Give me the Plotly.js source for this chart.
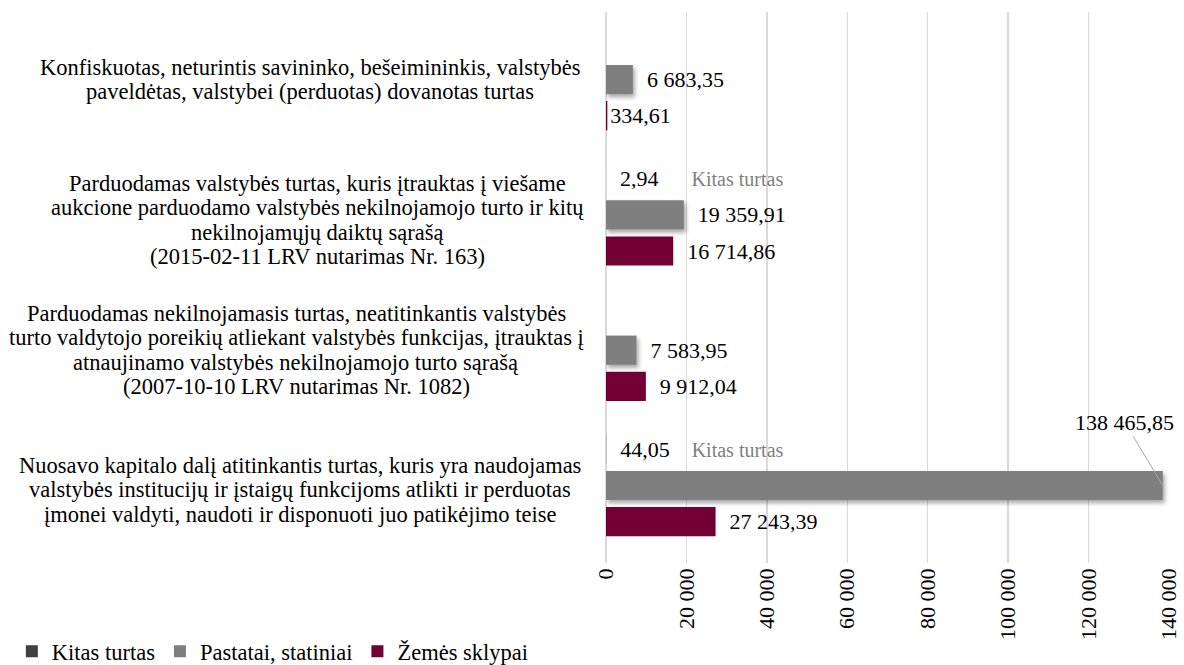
<!DOCTYPE html>
<html><head><meta charset="utf-8">
<script src="https://cdn.plot.ly/plotly-3.0.1.min.js"></script>
<style>html,body{margin:0;padding:0;background:#fff}#chart{width:1184px;height:665px}</style>
</head><body><div id="chart"></div>
<script>
const categoryLines = [
  ["Konfiskuotas, neturintis savininko, bešeimininkis, valstybės",
   "paveldėtas, valstybei (perduotas) dovanotas turtas"],
  ["Parduodamas valstybės turtas, kuris įtrauktas į viešame",
   "aukcione parduodamo valstybės nekilnojamojo turto ir kitų",
   "nekilnojamųjų daiktų sąrašą",
   "(2015-02-11 LRV nutarimas Nr. 163)"],
  ["Parduodamas nekilnojamasis turtas, neatitinkantis valstybės",
   "turto valdytojo poreikių atliekant valstybės funkcijas, įtrauktas į",
   "atnaujinamo valstybės nekilnojamojo turto sąrašą",
   "(2007-10-10 LRV nutarimas Nr. 1082)"],
  ["Nuosavo kapitalo dalį atitinkantis turtas, kuris yra naudojamas",
   "valstybės institucijų ir įstaigų funkcijoms atlikti ir perduotas",
   "įmonei valdyti, naudoti ir disponuoti juo patikėjimo teise"]
];
const categories = categoryLines.map(l => l.join(' '));
const seriesNames = ["Kitas turtas", "Pastatai, statiniai", "Žemės sklypai"];
const kitasTurtas = [null, 2.94, null, 44.05];
const pastatai = [6683.35, 19359.91, 7583.95, 138465.85];
const zemesSklypai = [334.61, 16714.86, 9912.04, 27243.39];
const xTickValues = [0, 20000, 40000, 60000, 80000, 100000, 120000, 140000];

const colors = ['#404040', '#7f7f7f', '#720034'];
const FONT = 'Liberation Serif, Times New Roman, serif';
const xMax = 140000;
const NB = '\u00a0';

const kitasGap = [0, 6, 0, 4];
const kitasTemplates = kitasTurtas.map((v, i) =>
  v == null ? '' : NB + NB + '%{x:,.2f}' + NB.repeat(kitasGap[i]) +
  '<span style="color:#808080;font-size:20px">' + seriesNames[0] + '</span>');
const bigThreshold = 0.85 * xMax;
const pad = v => (v < 0.01 * xMax ? '' : NB + NB);
const pastTemplates = pastatai.map(v => v > bigThreshold ? '' : pad(v) + '%{x:,.2f}');
const zemTemplates = zemesSklypai.map(v => pad(v) + '%{x:,.2f}');

const common = {type: 'bar', orientation: 'h', y: categories, textposition: 'outside',
  cliponaxis: false, textfont: {family: FONT, size: 22, color: '#000'}, hoverinfo: 'x+name'};

const traces = [
  Object.assign({}, common, {name: seriesNames[0], x: kitasTurtas, marker: {color: colors[0]}, texttemplate: kitasTemplates}),
  Object.assign({}, common, {name: seriesNames[1], x: pastatai, marker: {color: colors[1]}, texttemplate: pastTemplates}),
  Object.assign({}, common, {name: seriesNames[2], x: zemesSklypai, marker: {color: colors[2]}, texttemplate: zemTemplates})
];

const blockCenters = [310, 317, 296, 300];
const blockDy = [0, -5, 0, -4];
const plotLeft = 606;
const lineStep = 24.5;
const annotations = [];
categoryLines.forEach((lines, ci) => {
  const n = lines.length;
  lines.forEach((line, k) => {
    annotations.push({
      xref: 'paper', yref: 'y', x: 0, y: categories[ci],
      xshift: blockCenters[ci] - plotLeft,
      yshift: ((n - 1) / 2 - k) * lineStep + blockDy[ci],
      xanchor: 'center', yanchor: 'middle', showarrow: false,
      text: line, font: {family: FONT, size: 22.5, color: '#000'}
    });
  });
});
const fmt = v => {
  const s = v.toFixed(2).split('.');
  return s[0].replace(/\B(?=(\d{3})+(?!\d))/g, ' ') + ',' + s[1];
};
pastatai.forEach((v, i) => {
  if (v > bigThreshold) {
    annotations.push({
      xref: 'x', yref: 'y', x: v, y: categories[i],
      text: fmt(v), showarrow: true, arrowhead: 0, arrowwidth: 1,
      arrowcolor: '#a6a6a6', ax: -38, ay: -63,
      font: {family: FONT, size: 22, color: '#000'}
    });
  }
});

const layout = {
  width: 1184, height: 665,
  margin: {l: plotLeft, r: 15, t: 12, b: 102, autoexpand: false},
  paper_bgcolor: '#fff', plot_bgcolor: '#fff',
  separators: ', ',
  barmode: 'group', bargap: 0.2, bargroupgap: 0.19,
  font: {family: FONT, size: 22, color: '#000'},
  xaxis: {range: [0, xMax], tickvals: xTickValues, tickformat: ',d', tickangle: -90,
    showgrid: true, gridcolor: '#d9d9d9', gridwidth: 1.5,
    zeroline: true, zerolinecolor: '#d9d9d9', zerolinewidth: 2.5,
    showline: false, ticks: '', ticklabelstandoff: 0, automargin: false,
    tickfont: {family: FONT, size: 22, color: '#000'}, fixedrange: true},
  yaxis: {type: 'category', categoryorder: 'array', categoryarray: categories,
    autorange: 'reversed', showticklabels: false, showgrid: false, zeroline: false,
    showline: false, ticks: '', fixedrange: true, automargin: false},
  showlegend: true,
  legend: {orientation: 'h', xref: 'container', yref: 'container',
    x: 0.01, xanchor: 'left', y: 0.02, yanchor: 'middle',
    font: {family: FONT, size: 22.5, color: '#000'}, itemwidth: 30, traceorder: 'normal'},
  annotations: annotations
};

Plotly.newPlot('chart', traces, layout, {displayModeBar: false, staticPlot: true}).then(gd => {
  const svg = gd.querySelector('.main-svg');
  const ns = 'http://www.w3.org/2000/svg';
  let defs = svg.querySelector('defs');
  if (!defs) { defs = document.createElementNS(ns, 'defs'); svg.insertBefore(defs, svg.firstChild); }
  const f = document.createElementNS(ns, 'filter');
  f.setAttribute('id', 'barShadow'); f.setAttribute('x', '-10%'); f.setAttribute('y', '-30%');
  f.setAttribute('width', '130%'); f.setAttribute('height', '180%');
  const ds = document.createElementNS(ns, 'feDropShadow');
  ds.setAttribute('dx', '2'); ds.setAttribute('dy', '3'); ds.setAttribute('stdDeviation', '2');
  ds.setAttribute('flood-color', '#000'); ds.setAttribute('flood-opacity', '0.35');
  f.appendChild(ds); defs.appendChild(f);
  const tr = gd.querySelectorAll('.barlayer .trace');
  if (tr[1]) tr[1].querySelectorAll('path').forEach(p => p.setAttribute('filter', 'url(#barShadow)'));
});
</script>
</body></html>
